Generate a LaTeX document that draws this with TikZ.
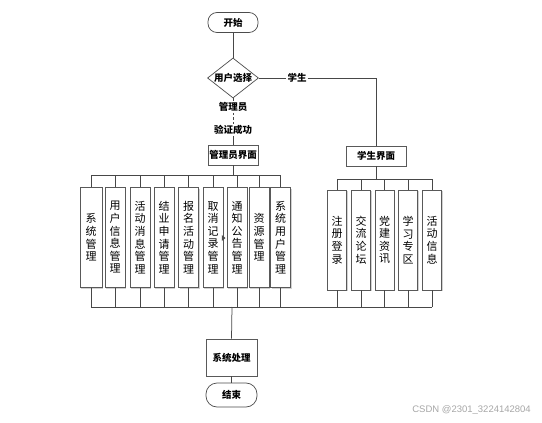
\documentclass[tikz,border=0pt]{standalone}
\usepackage{fontspec}
\setmainfont{Noto Sans CJK SC}
\newfontfamily\wmfont{Liberation Sans}
\usetikzlibrary{shapes.geometric,shadows}
\begin{document}
\begin{tikzpicture}[x=1pt,y=-1pt,
  conn/.style={draw=black!72, line width=0.75pt},
  shd/.style={drop shadow={shadow xshift=1pt, shadow yshift=-1pt, opacity=0.3, fill=black!60}},
  term/.style={draw=black!70, fill=white, rounded corners=9pt, line width=0.7pt,
    minimum width=50pt, minimum height=20pt, inner sep=0pt,
    font=\bfseries\fontsize{9.5}{10}\selectfont},
  pbox/.style={draw=black!65, fill=white, line width=0.7pt, shd,
    minimum width=50pt, minimum height=20pt, inner sep=0pt,
    font=\bfseries\fontsize{9.5}{10}\selectfont},
  vbox/.style={draw=black!65, fill=white, line width=0.7pt, shd,
    minimum width=20pt, minimum height=100pt, inner sep=0pt, align=center,
    font=\fontsize{11}{12.6}\selectfont},
  lbl/.style={fill=white, inner sep=1pt, font=\bfseries\fontsize{9.5}{10}\selectfont}
]
\useasboundingbox (0,0) rectangle (542,423);

% top part
\node[term] (start) at (233,22.5) {开始};
\node[diamond, draw=black!70, fill=white, line width=0.7pt, minimum width=51pt, minimum height=40pt, inner sep=0pt] (dec) at (233,78) {};
\node[font=\bfseries\fontsize{9.5}{10}\selectfont, inner sep=0pt] (dect) at (dec.center) {用户选择};
\node[lbl] (lstu) at (297,78) {学生};
\node[lbl] (lad) at (233,107) {管理员};
\node[lbl] (lver) at (233,130) {验证成功};
\node[pbox] (adm) at (233,155) {管理员界面};
\node[pbox, minimum width=60pt] (stu) at (376,156) {学生界面};

\draw[conn] (start) -- (dec);
\draw[conn] (dec.east) -- (lstu.west);
\draw[conn] (lstu.east) -| (stu.north);
\draw[conn] (dec.south) -- (lad.north);
\draw[conn, dashed, dash pattern=on 2.5pt off 2pt] (lad.south) -- (lver.north);
\draw[conn] (lver.south) -- (adm.north);

% admin boxes
\node[vbox, minimum width=22pt] (a1) at (91,237.5) {系\\统\\管\\理};
\node[vbox] (a2) at (115,237.5) {用\\户\\信\\息\\管\\理};
\node[vbox] (a3) at (140,237.5) {活\\动\\消\\息\\管\\理};
\node[vbox] (a4) at (164,237.5) {结\\业\\申\\请\\管\\理};
\node[vbox] (a5) at (188.5,237.5) {报\\名\\活\\动\\管\\理};
\node[vbox] (a6) at (213,237.5) {取\\消\\记\\录\\管\\理};
\node[vbox] (a7) at (237,237.5) {通\\知\\公\\告\\管\\理};
\node[vbox] (a8) at (259,237.5) {资\\源\\管\\理};
\node[vbox] (a9) at (280.5,237.5) {系\\统\\用\\户\\管\\理};

% student boxes
\node[vbox, minimum width=19pt] (s1) at (337,240) {注\\册\\登\\录};
\node[vbox, minimum width=19pt] (s2) at (361,240) {交\\流\\论\\坛};
\node[vbox, minimum width=19pt] (s3) at (384.5,240) {党\\建\\资\\讯};
\node[vbox, minimum width=19pt] (s4) at (408,240) {学\\习\\专\\区};
\node[vbox, minimum width=19pt] (s5) at (432,240) {活\\动\\信\\息};

% buses
\coordinate (abus) at (233,175);
\coordinate (sbus) at (376,179);
\coordinate (bbus) at (232,307);
\draw[conn] (adm.south) -- (abus);
\draw[conn] (a1.north |- abus) -- (a9.north |- abus);
\foreach \i in {1,...,9} {\draw[conn] (a\i.north) -- (a\i.north |- abus);}
\draw[conn] (stu.south) -- (sbus);
\draw[conn] (s1.north |- sbus) -- (s5.north |- sbus);
\foreach \i in {1,...,5} {\draw[conn] (s\i.north) -- (s\i.north |- sbus);}
\draw[conn] (a1.south |- bbus) -- (s5.south |- bbus);
\foreach \i in {1,...,9} {\draw[conn] (a\i.south) -- (a\i.south |- bbus);}
\foreach \i in {1,...,5} {\draw[conn] (s\i.south) -- (s\i.south |- bbus);}

% small stray arrowhead
\fill[black!70] (221.8,235) -- (225.5,238) -- (221.8,241) -- cycle;

% bottom
\node[pbox, minimum width=51pt, minimum height=37pt] (sys) at (231.5,357.5) {系统处理};
\node[term, minimum width=51pt, minimum height=24pt, rounded corners=11pt] (end) at (231.5,395) {结束};
\draw[conn] (bbus) -- (sys.north);
\draw[conn] (sys) -- (end);

\node[text=black!35, font=\wmfont\fontsize{9.5}{10}\selectfont, anchor=east, inner sep=0pt] (wm) at (531,410) {CSDN @2301\_3224142804};
\end{tikzpicture}
\end{document}
